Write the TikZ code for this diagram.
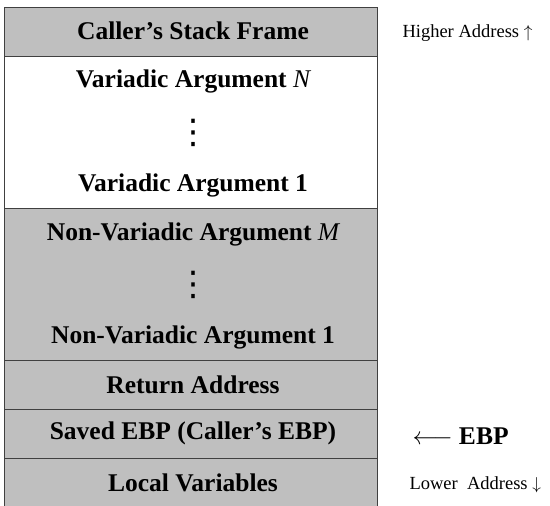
\documentclass[tikz,border=0pt]{standalone}
\usepackage{fontspec}
\setmainfont{Liberation Serif}
\newfontfamily\dotsfont{DejaVu Sans}
\tikzset{
  cell/.style={fill=black!25, draw=black!75, line width=0.8pt},
  blank/.style={fill=white, draw=black!75, line width=0.8pt},
  lbl/.style={font=\fontsize{25.5}{30}\selectfont\bfseries},
  dots/.style={font=\dotsfont\fontsize{34}{34}\selectfont, inner sep=0pt},
  side/.style={font=\fontsize{18.5}{22}\selectfont, anchor=west},
}
\begin{document}
\begin{tikzpicture}[x=1pt,y=1pt]
    \def\l{4}
    \def\r{377}
    \def\c{193}
    \useasboundingbox (0,0) rectangle (550,506);

    % stack rows, top to bottom
    \draw[cell]  (\l,450) rectangle (\r,499);
    \draw[blank] (\l,298) rectangle (\r,450);
    \draw[cell]  (\l,146) rectangle (\r,298);
    \draw[cell]  (\l,97)  rectangle (\r,146);
    \draw[cell]  (\l,48)  rectangle (\r,97);
    \draw[cell]  (\l,-4)  rectangle (\r,48);

    \node[lbl] (caller) at (\c,475) {Caller's Stack Frame};
    \node[lbl] (varN) at (\c,425) {Variadic Argument {\mdseries\itshape N}};
    \node[dots] (vdotsA) at (\c,373) {⋮};
    \node[lbl] (varOne) at (\c,321) {Variadic Argument 1};
    \node[lbl] (nvarM) at (\c,272) {Non-Variadic Argument {\mdseries\itshape M}};
    \node[dots] (vdotsB) at (\c,221) {⋮};
    \node[lbl] (nvarOne) at (\c,169) {Non-Variadic Argument 1};
    \node[lbl] (ret) at (\c,121) {Return Address};
    \node[lbl] (saved) at (\c,73) {Saved EBP (Caller's EBP)};
    \node[lbl] (local) at (\c,23) {Local Variables};

    % address hints on the right
    \node[side] (higher) at (399,473) {Higher Address $\uparrow$};
    \node[side, font=\fontsize{25.5}{30}\selectfont] (ebp) at (409,70) {$\longleftarrow$ \textbf{EBP}};
    \node[side] (lower) at (406,21) {Lower\ \ Address $\downarrow$};
\end{tikzpicture}
\end{document}
